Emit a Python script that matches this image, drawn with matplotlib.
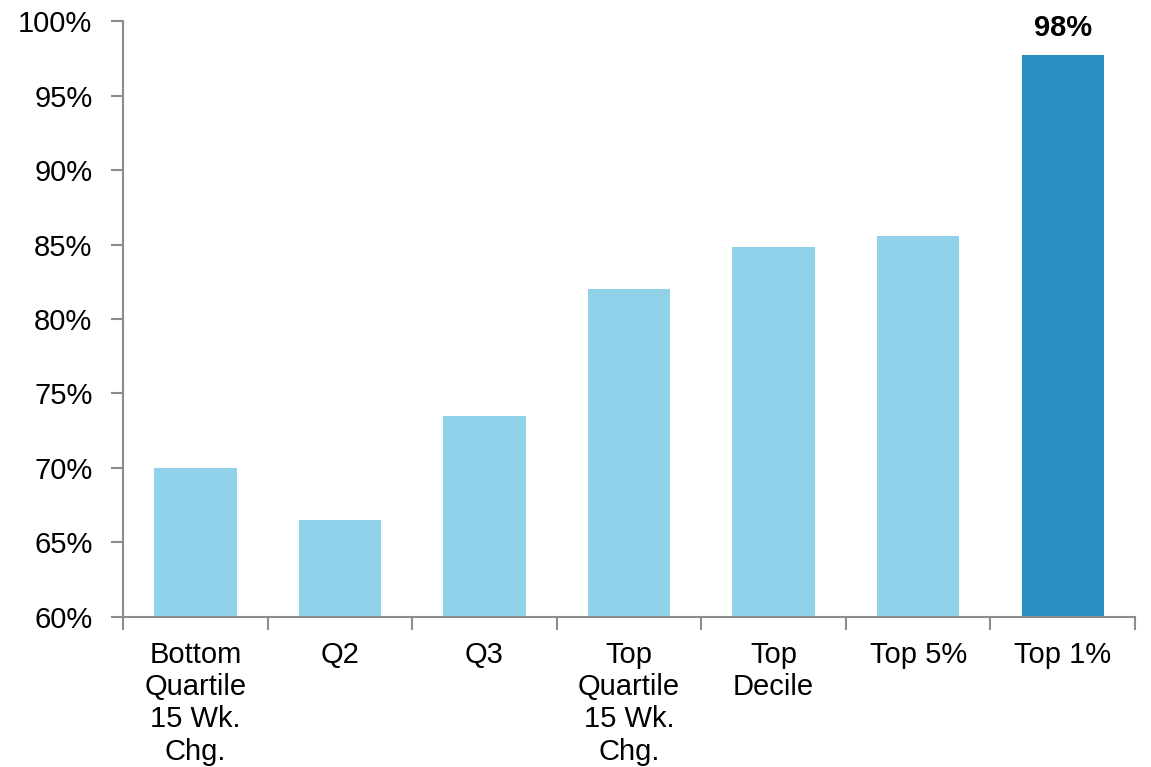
import matplotlib
matplotlib.use("Agg")
import matplotlib.pyplot as plt
from matplotlib.ticker import FuncFormatter, FixedLocator
import numpy as np

plt.rcParams['font.family'] = ['Liberation Sans', 'DejaVu Sans']

categories = ["Bottom\nQuartile\n15 Wk.\nChg.", "Q2", "Q3",
              "Top\nQuartile\n15 Wk.\nChg.", "Top\nDecile", "Top 5%", "Top 1%"]
values = [70.0, 66.5, 73.5, 82.0, 84.8, 85.6, 97.7]
highlight = [False, False, False, False, False, False, True]

light = "#8fd2ea"
dark = "#2a8ec3"
axis_col = "#8c8c8c"

fig = plt.figure(figsize=(11.51, 7.67), dpi=100)
ax = fig.add_axes([0.1069, 0.1956, 0.8792, 0.7770])

x = np.arange(len(categories))
colors = [dark if h else light for h in highlight]
ax.bar(x, values, width=0.57, color=colors, bottom=0, zorder=2)

ax.set_xlim(-0.5, len(categories) - 0.5)
ax.set_ylim(60, 100)
ax.set_yticks(np.arange(60, 101, 5))
ax.yaxis.set_major_formatter(FuncFormatter(lambda v, p: f"{v:.0f}%"))

ax.set_xticks(x)
ax.set_xticklabels(categories, fontsize=21, linespacing=1.2)
ax.xaxis.set_minor_locator(FixedLocator(np.arange(-0.5, len(categories), 1.0)))
ax.tick_params(axis='x', which='major', length=0, pad=17)
ax.tick_params(axis='x', which='minor', length=9, width=1.5, color=axis_col, direction='out')
ax.tick_params(axis='y', which='major', length=9, width=1.5, color=axis_col,
               direction='out', labelsize=21, pad=13)

for s in ['top', 'right']:
    ax.spines[s].set_visible(False)
for s in ['left', 'bottom']:
    ax.spines[s].set_color(axis_col)
    ax.spines[s].set_linewidth(1.5)

for xi, v, h in zip(x, values, highlight):
    if h:
        ax.annotate(f"{round(v):.0f}%", (xi, v), xytext=(0, 9.5), textcoords='offset points',
                    ha='center', va='bottom', fontsize=21, fontweight='bold')

fig.savefig("out.png", dpi=100)
